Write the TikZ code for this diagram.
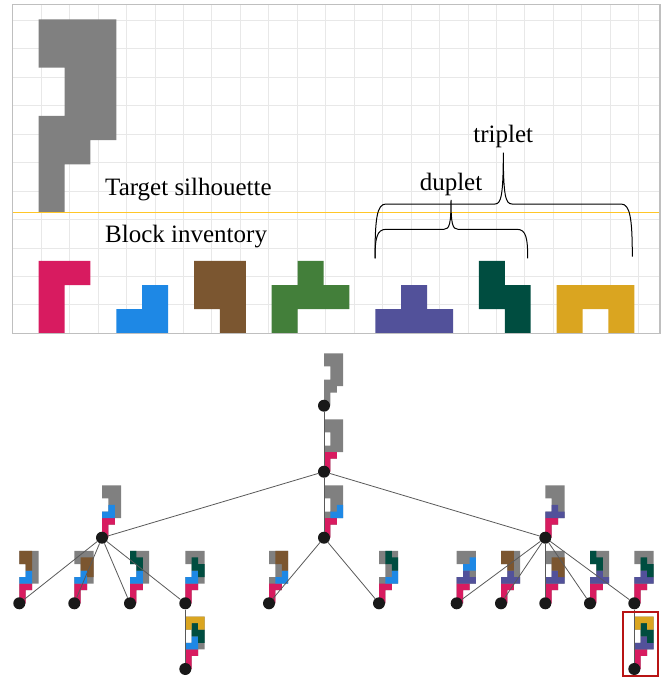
\documentclass[tikz,border=0pt]{standalone}
\usepackage{fontspec}
\setmainfont{Liberation Serif}
\usepackage{tikz}
\usetikzlibrary{positioning, shapes}

\pgfdeclarelayer{background}
\pgfsetlayers{background,main}

\definecolor{silgray}{HTML}{808080}
\definecolor{bpink}{HTML}{D81B60}
\definecolor{bblue}{HTML}{1E88E5}
\definecolor{bbrown}{HTML}{7B5630}
\definecolor{bgreen}{HTML}{437F3A}
\definecolor{bpurple}{HTML}{52519A}
\definecolor{bdkgreen}{HTML}{004D40}
\definecolor{bgold}{HTML}{DAA520}
\definecolor{splitline}{HTML}{FFC627}
\definecolor{hilite}{HTML}{B81414}

\tikzset{
    gridline/.style={draw=black!9, line width=0.8pt},
    frame/.style={draw=black!25, line width=1.5pt},
    brace/.style={draw=black, line width=1pt},
    txt/.style={font=\fontsize{25}{30}\selectfont, inner sep=0pt, anchor=base west},
    dot/.style={circle, fill=black!90, inner sep=0pt, minimum size=12pt},
    edge/.style={draw=black!65, line width=0.8pt},
}

% cells of one colour, as one path
\newcommand{\cells}[2]{\fill[#1] \foreach \cx/\cy in {#2} {(\cx,\cy) rectangle ++(1,1)};}
\newcommand{\sil}{\fill[silgray] (0,0) -- (1,0) -- (1,2) -- (2,2) -- (2,3) -- (3,3) -- (3,8) -- (0,8) -- (0,6) -- (1,6) -- (1,4) -- (0,4) -- cycle;}
\newcommand{\mini}[2]{\begin{scope}[shift={(#1.center)}, x=6.4pt, y=6.55pt]\sil #2\end{scope}}
\newcommand{\pk}{\cells{bpink}{0/0,0/1,0/2,1/2}}
\newcommand{\blA}{\cells{bblue}{0/3,1/3,1/4}}
\newcommand{\blB}{\cells{bblue}{1/3,2/3,2/4}}
\newcommand{\pu}{\cells{bpurple}{0/3,1/3,2/3,1/4}}
\newcommand{\gd}{\cells{bgold}{0/7,1/7,2/7,0/6,2/6}}

\begin{document}
\begin{tikzpicture}[x=1pt, y=-1pt]
    \useasboundingbox (0,0) rectangle (661,677);

    % top panel, in grid cells
    \begin{scope}[shift={(12.7,333.3)}, x=25.9pt, y=24.15pt]
        \draw[gridline] (0,0) grid (25,13.62);
        \fill[silgray] (1,5) -- (2,5) -- (2,7) -- (3,7) -- (3,8) -- (4,8) -- (4,13) -- (1,13) -- (1,11) -- (2,11) -- (2,9) -- (1,9) -- cycle;
        \fill[bpink] (1,0) -- (2,0) -- (2,2) -- (3,2) -- (3,3) -- (1,3) -- cycle;
        \fill[bblue] (4,0) -- (6,0) -- (6,2) -- (5,2) -- (5,1) -- (4,1) -- cycle;
        \fill[bbrown] (8,0) -- (9,0) -- (9,3) -- (7,3) -- (7,1) -- (8,1) -- cycle;
        \fill[bgreen] (10,0) -- (11,0) -- (11,1) -- (13,1) -- (13,2) -- (12,2) -- (12,3) -- (11,3) -- (11,2) -- (10,2) -- cycle;
        \fill[bpurple] (14,0) -- (17,0) -- (17,1) -- (16,1) -- (16,2) -- (15,2) -- (15,1) -- (14,1) -- cycle;
        \fill[bdkgreen] (19,0) -- (20,0) -- (20,2) -- (19,2) -- (19,3) -- (18,3) -- (18,1) -- (19,1) -- cycle;
        \fill[bgold] (21,0) -- (22,0) -- (22,1) -- (23,1) -- (23,0) -- (24,0) -- (24,2) -- (21,2) -- cycle;
        \draw[splitline, line width=1.5pt] (0,5) -- (25,5);
        \draw[frame] (0,0) rectangle (25,13.62);
    \end{scope}

    \node[txt] (target) at (105,195) {Target silhouette};
    \node[txt] (inventory) at (105,242.5) {Block inventory};
    \node[txt, anchor=base] (duplet) at (451,190) {duplet};
    \node[txt, anchor=base] (triplet) at (503.3,142.5) {triplet};

    \draw[brace] (375,258.3) .. controls (375,238) and (377,229.3) .. (386,229.3) -- (444,229.3)
        .. controls (449.5,229.3) and (451,224) .. (451,200)
        .. controls (451,224) and (452.5,229.3) .. (458,229.3) -- (517,229.3)
        .. controls (526,229.3) and (527.7,238) .. (527.7,258.3);
    \draw[brace] (375,258.3) .. controls (375,218) and (377,204) .. (386,204) -- (495,204)
        .. controls (501,204) and (503.3,196) .. (503.3,152.7)
        .. controls (503.3,196) and (505.6,204) .. (512,204) -- (621,204)
        .. controls (630,204) and (632.3,218) .. (632.3,256.7);

    % search tree
    \node[dot] (n0) at (324,405.7) {};
    \node[dot] (n1) at (324,471.7) {};
    \node[dot] (a) at (102,537.7) {};
    \node[dot] (b) at (324,537.7) {};
    \node[dot] (c) at (545.3,537.7) {};
    \node[dot] (a1) at (19.3,603.3) {};
    \node[dot] (a2) at (74.3,603.3) {};
    \node[dot] (a3) at (130,603.3) {};
    \node[dot] (a4) at (185.3,603.3) {};
    \node[dot] (b1) at (269,603.3) {};
    \node[dot] (b2) at (379,603.3) {};
    \node[dot] (c1) at (456.7,603.3) {};
    \node[dot] (c2) at (501,603.3) {};
    \node[dot] (c3) at (545.3,603.3) {};
    \node[dot] (c4) at (590,603.3) {};
    \node[dot] (c5) at (634.3,603.3) {};
    \node[dot] (a41) at (185.3,669) {};
    \node[dot] (c51) at (634.3,669) {};

    \foreach \u/\v in {n0/n1, n1/a, n1/b, n1/c, a/a1, a/a2, a/a3, a/a4, b/b1, b/b2,
        c/c1, c/c2, c/c3, c/c4, c/c5, a4/a41, c5/c51}
        \draw[edge] (\u) -- (\v);

    \begin{pgfonlayer}{background}
        \mini{n0}{}
        \mini{n1}{\pk}
        \mini{a}{\pk\blA}
        \mini{b}{\pk\blB}
        \mini{c}{\pk\pu}
        \mini{a1}{\pk\blA\cells{bbrown}{0/7,1/7,0/6,1/6,1/5}}
        \mini{a2}{\pk\blA\cells{bbrown}{1/6,2/6,1/5,2/5,2/4}}
        \mini{a3}{\pk\blA\cells{bdkgreen}{0/7,0/6,1/6,1/5}}
        \mini{a4}{\pk\blA\cells{bdkgreen}{1/6,1/5,2/5,2/4}}
        \mini{a41}{\pk\blA\cells{bdkgreen}{1/6,1/5,2/5,2/4}\gd}
        \mini{b1}{\pk\blB\cells{bbrown}{1/7,2/7,1/6,2/6,2/5}}
        \mini{b2}{\pk\blB\cells{bdkgreen}{1/7,1/6,2/6,2/5}}
        \mini{c1}{\pk\pu\cells{bblue}{2/6,1/5,2/5}}
        \mini{c2}{\pk\pu\cells{bbrown}{0/7,1/7,0/6,1/6,1/5}}
        \mini{c3}{\pk\pu\cells{bbrown}{1/6,2/6,1/5,2/5,2/4}}
        \mini{c4}{\pk\pu\cells{bdkgreen}{0/7,0/6,1/6,1/5}}
        \mini{c5}{\pk\pu\cells{bdkgreen}{1/6,1/5,2/5,2/4}}
        \mini{c51}{\pk\pu\cells{bdkgreen}{1/6,1/5,2/5,2/4}\gd}
    \end{pgfonlayer}

    \draw[hilite, line width=2pt] (622.7,611.7) rectangle (657.7,675.7);
\end{tikzpicture}
\end{document}
